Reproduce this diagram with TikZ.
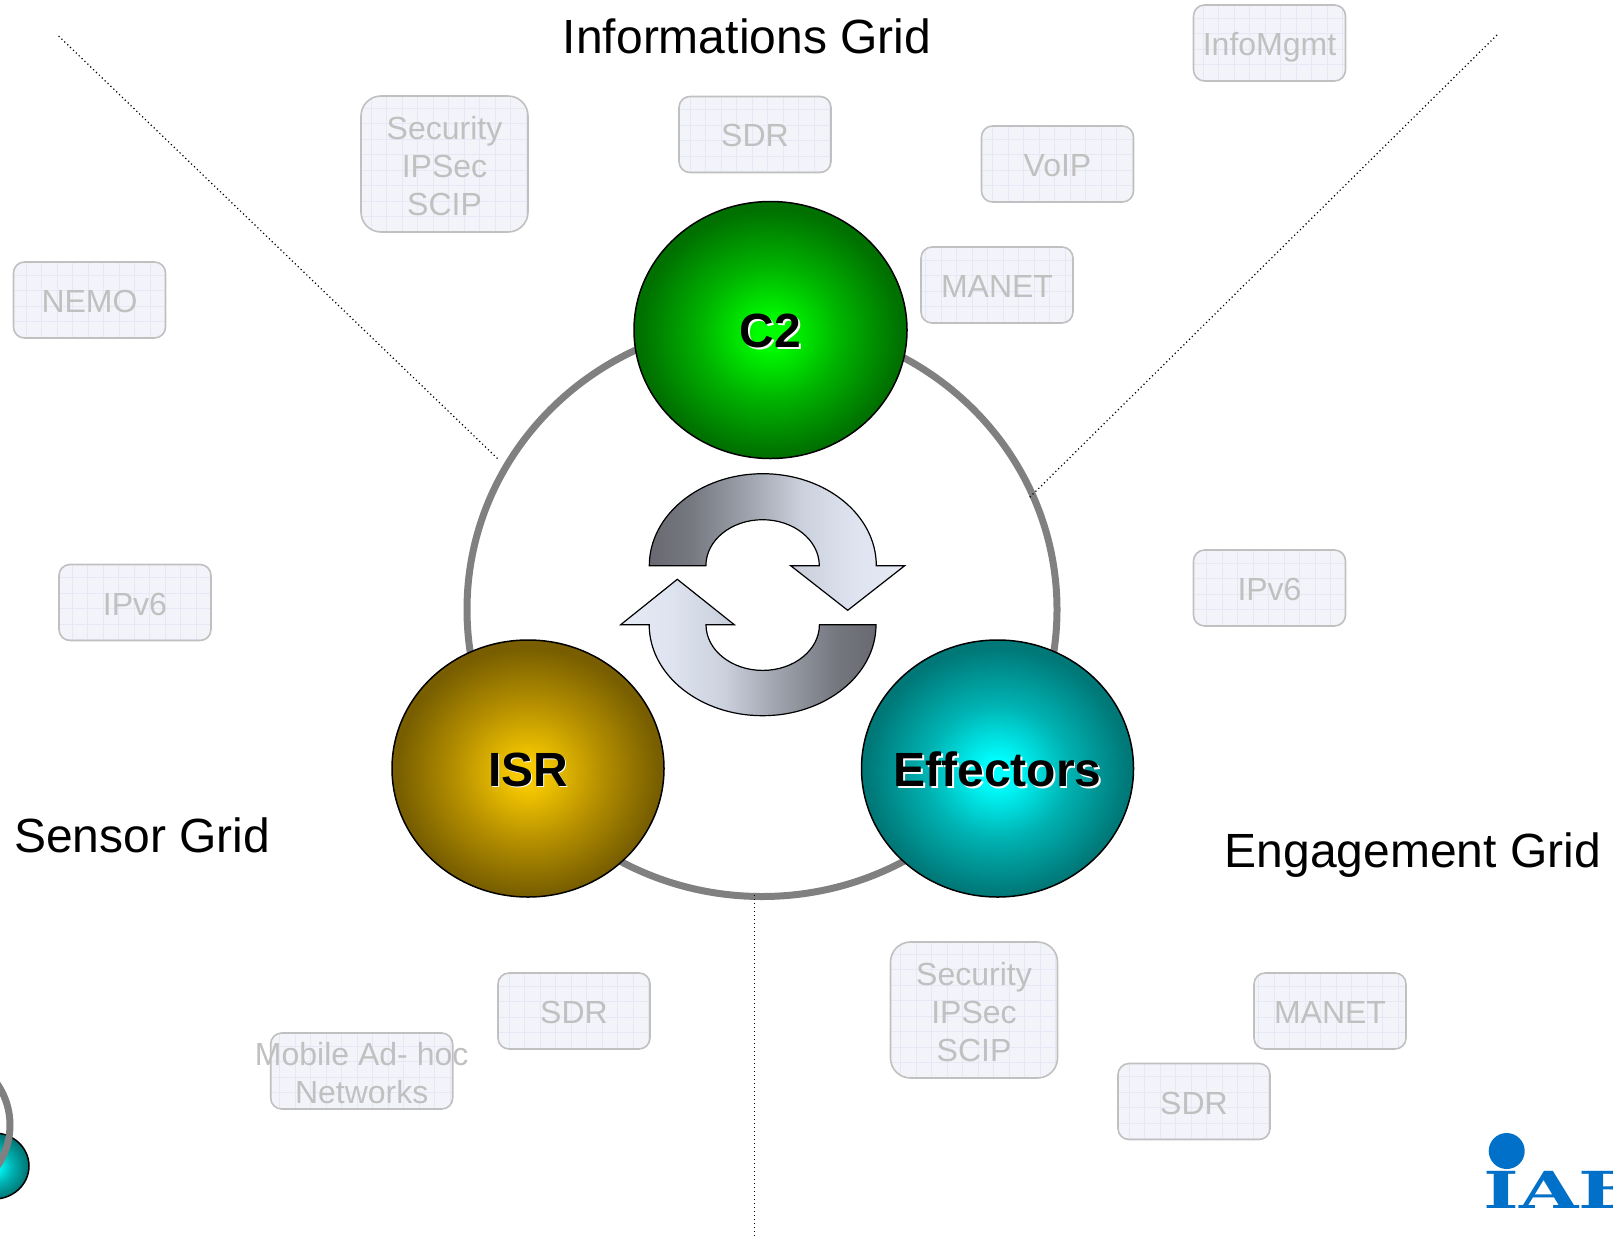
\documentclass[tikz,border=0pt]{standalone}
\usepackage{fontspec}
\usepackage{graphicx}
\setmainfont{Liberation Sans}
\newfontfamily\logofont{DejaVu Serif}
\usetikzlibrary{shapes.geometric}
\definecolor{boxfill}{HTML}{F3F4FA}
\definecolor{boxgrid}{HTML}{E6E8F5}
\definecolor{boxedge}{HTML}{C0C0C0}
\definecolor{ringgray}{HTML}{808080}
\definecolor{logoblue}{HTML}{0070C8}
\pgfdeclarehorizontalshading{arrowgrad}{100bp}{
  rgb(0bp)=(.41,.41,.44); rgb(25bp)=(.41,.41,.44); rgb(33bp)=(.46,.47,.50);
  rgb(45bp)=(.63,.65,.69); rgb(55bp)=(.80,.82,.87); rgb(65bp)=(.87,.89,.94);
  rgb(75bp)=(.90,.92,.96); rgb(100bp)=(.90,.92,.96)}
\pgfdeclareradialshading{greengrad}{\pgfpoint{0bp}{-.8bp}}{
  rgb(0bp)=(0,1,0); rgb(2.5bp)=(0,1,0); rgb(13bp)=(0,.70,0); rgb(24bp)=(0,.44,0); rgb(50bp)=(0,.43,0)}
\pgfdeclareradialshading{goldgrad}{\pgfpoint{0bp}{-1bp}}{
  rgb(0bp)=(.97,.79,0); rgb(2.5bp)=(.97,.79,0); rgb(13bp)=(.72,.57,0); rgb(24bp)=(.47,.37,0); rgb(50bp)=(.46,.36,0)}
\pgfdeclareradialshading{tealgrad}{\pgfpoint{0bp}{-.8bp}}{
  rgb(0bp)=(0,1,1); rgb(2.5bp)=(0,1,1); rgb(13bp)=(0,.70,.70); rgb(24bp)=(0,.47,.47); rgb(50bp)=(0,.46,.46)}
\newcommand{\shadowed}[1]{\raisebox{-2pt}[\height][\depth]{\makebox[0pt]{\makebox[0pt][l]{\hspace{1.6pt}\raisebox{-1.6pt}{\color{white}#1}}#1}}}
\newcommand{\boxtext}[2][-5pt]{\raisebox{#1}[\height][\depth]{\begin{tabular}{@{}c@{}}#2\end{tabular}}}
\tikzset{
  gridbox/.style={draw=boxedge,line width=1.6pt,fill=boxfill,rounded corners=11pt,
    minimum width=#1,minimum height=76pt,inner sep=0pt,text=boxedge,align=center,
    font=\fontsize{32}{38}\selectfont,
    path picture={\draw[boxgrid,line width=.5pt,x=1pt,y=1pt]
      (path picture bounding box.south west) grid[step=15.5pt]
      (path picture bounding box.north east);}},
  gridbox/.default=152pt,
  tallbox/.style={gridbox=167pt,minimum height=136pt,rounded corners=20pt},
  ball/.style={ellipse,draw=black,line width=1.5pt,minimum width=272pt,minimum height=257pt,
    inner sep=0pt,font=\fontsize{48}{54}\selectfont\bfseries},
  ringshape/.style={ellipse,draw=ringgray,line width=7pt,inner sep=0pt},
  gridtitle/.style={font=\fontsize{48}{54}\selectfont,inner sep=0pt},
  divider/.style={black,line width=1.2pt,dash pattern=on 1.2pt off 2.8pt},
  cyclearrow/.style={draw=black,line width=1.2pt,line join=miter,shading=arrowgrad},
}
\begin{document}
\begin{tikzpicture}[x=1pt,y=-1pt]
\useasboundingbox (0,0) rectangle (1613,1237);
% dividers
\coordinate (dla) at (58.6,36); \coordinate (dlb) at (498,459);
\coordinate (dra) at (1497,35); \coordinate (drb) at (1029,498);
\coordinate (dba) at (754.5,895); \coordinate (dbb) at (754.5,1237);
% small cropped group, lower left
\node[ball,minimum width=70pt,minimum height=66pt,shading=tealgrad] (miniball) at (-6,1166) {};
\node[ringshape,minimum width=152pt,minimum height=148pt] (miniring) at (-66,1125) {};
% big ring
\node[ringshape,minimum width=590pt,minimum height=574pt] (ring) at (762,609.5) {};
\draw[divider] (dla) -- (dlb);
\draw[divider] (dra) -- (drb);
\draw[divider] (dba) -- (dbb);
% balls
\node[ball,minimum width=273pt,shading=greengrad] (c2) at (770.5,330) {\shadowed{C2}};
\node[ball,shading=goldgrad] (isr) at (528,768.5) {\shadowed{ISR}};
\node[ball,shading=tealgrad] (eff) at (997.5,768.5) {\shadowed{Effectors}};
% cycle arrows
\path[cyclearrow] (649.3,565.7) arc[start angle=180,end angle=360,x radius=113.5,y radius=92]
  -- (904.7,565.7) -- (847.7,610.3) -- (790.7,565.7) -- (819.3,565.7)
  arc[start angle=360,end angle=180,x radius=56.7,y radius=46] -- cycle;
\path[cyclearrow,shading angle=180] (876,624.7) arc[start angle=0,end angle=180,x radius=113.4,y radius=91]
  -- (620.7,624.7) -- (677.3,579.3) -- (734.3,624.7) -- (706,624.7)
  arc[start angle=180,end angle=0,x radius=56.7,y radius=45.7] -- cycle;
% grid titles
\node[gridtitle,anchor=base] (tinfo) at (747,53.5) {Informations Grid};
\node[gridtitle,anchor=base west] (tsensor) at (14,852) {Sensor Grid};
\node[gridtitle,anchor=base west] (tengage) at (1224.5,867) {Engagement Grid};
% boxes
\node[gridbox] (infomgmt) at (1269.5,43) {\boxtext{InfoMgmt}};
\node[tallbox] (sec1) at (444.5,164) {\boxtext[-6pt]{Security\\IPSec\\SCIP}};
\node[gridbox] (sdr1) at (755,134.5) {\boxtext[-4pt]{SDR}};
\node[gridbox] (voip) at (1057.5,164) {\boxtext{VoIP}};
\node[gridbox] (manet1) at (997,285) {\boxtext{MANET}};
\node[gridbox] (nemo) at (89.5,300) {\boxtext{NEMO}};
\node[gridbox] (ipv6l) at (135,602.5) {\boxtext{IPv6}};
\node[gridbox] (ipv6r) at (1269.5,588) {\boxtext{IPv6}};
\node[gridbox] (sdr2) at (574,1011) {\boxtext{SDR}};
\node[gridbox=182pt] (mobile) at (361.7,1071) {\boxtext[-6pt]{\makebox[0pt]{Mobile Ad- hoc}\\Networks}};
\node[tallbox] (sec2) at (974,1010) {\boxtext[-6pt]{Security\\IPSec\\SCIP}};
\node[gridbox] (manet2) at (1330,1011) {\boxtext{MANET}};
\node[gridbox] (sdr3) at (1194,1101.5) {\boxtext{SDR}};
% logo
\fill[logoblue] (1506.7,1151) circle (18);
\node[anchor=base west,inner sep=0pt,text=logoblue] (logo) at (1483.5,1208)
  {\scalebox{1.5}[1]{\fontsize{51}{56}\logofont\bfseries IAB}};
\end{tikzpicture}
\end{document}
